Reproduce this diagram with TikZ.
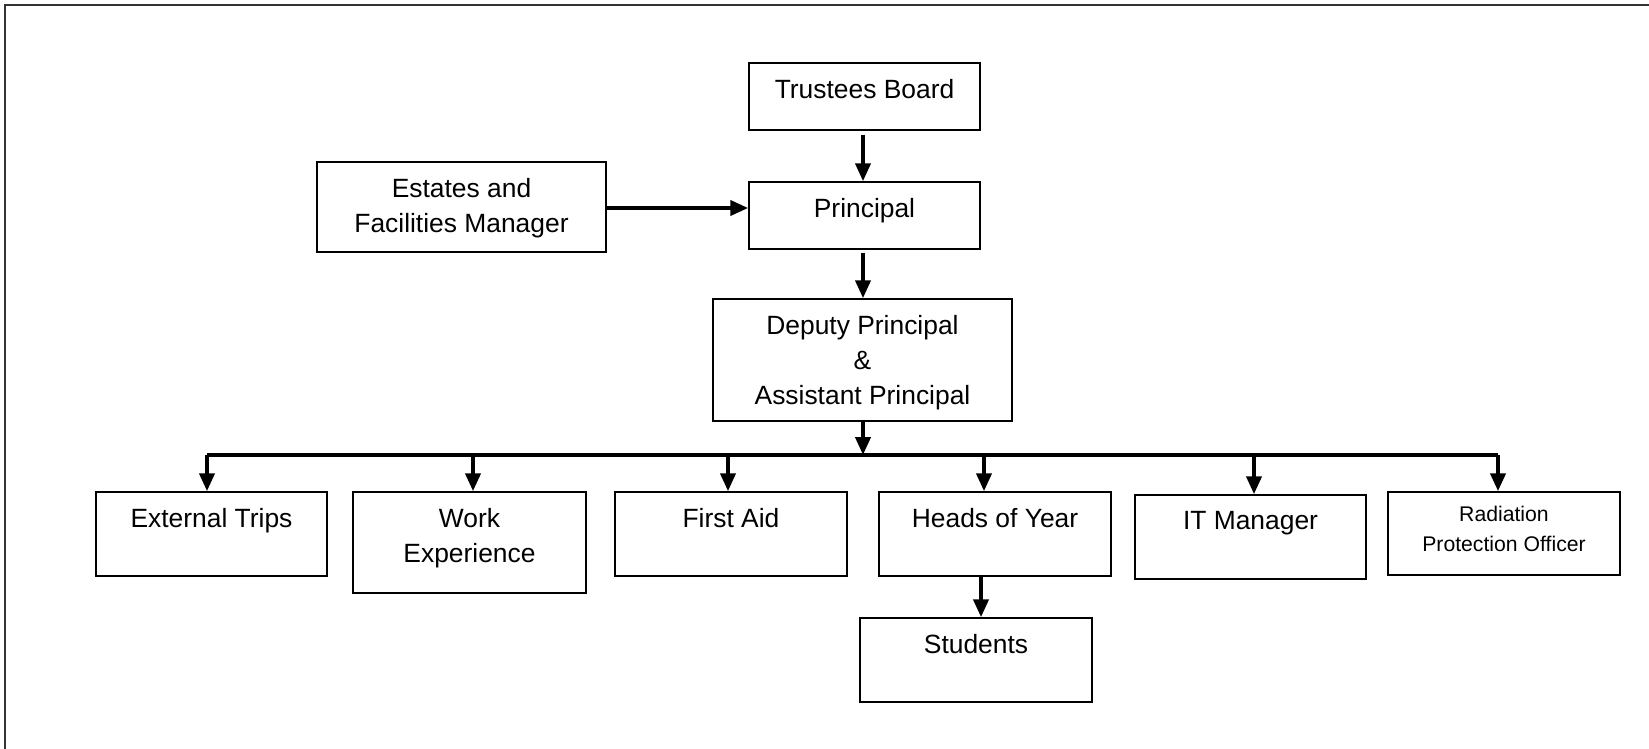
\documentclass[tikz,border=0pt]{standalone}
\usepackage{fontspec}
\setmainfont{Liberation Sans}
\usetikzlibrary{arrows.meta}
\begin{document}
\begin{tikzpicture}[x=0.5pt,y=-0.5pt,
  orgbox/.style={draw, line width=0.75pt, inner sep=0pt},
  lbl/.style={anchor=north, inner sep=0pt, align=center, font=\fontsize{13.2}{17.5}\selectfont, yshift=-8.25pt},
  smalllbl/.style={anchor=north, inner sep=0pt, align=center, font=\fontsize{10.6}{15}\selectfont, yshift=-7.2pt},
  arr/.style={line width=2pt, -{Triangle[length=9pt,width=7.5pt]}},
  bus/.style={line width=2pt},
  frame/.style={line width=1pt, draw=black!80}]
\useasboundingbox (0,0) rectangle (1649,749);
% frame (top and left edges only)
\coordinate (fTL) at (5,5);
\coordinate (fTR) at (1649,5);
\coordinate (fBL) at (5,749);
\draw[frame] (fBL) -- (fTL) -- (fTR);
% boxes
\node[orgbox, minimum width=115.5pt, minimum height=33.5pt] (tb) at (864.5,96.5) {};
\node[orgbox, minimum width=115.5pt, minimum height=33.5pt] (pr) at (864.5,215.5) {};
\node[orgbox, minimum width=144.5pt, minimum height=45pt] (es) at (461.5,207) {};
\node[orgbox, minimum width=149.5pt, minimum height=61pt] (dp) at (862.5,360) {};
\node[orgbox, minimum width=115.5pt, minimum height=42pt] (et) at (211.5,534) {};
\node[orgbox, minimum width=116.5pt, minimum height=50.5pt] (we) at (469.5,542.5) {};
\node[orgbox, minimum width=116pt, minimum height=42pt] (fa) at (731,534) {};
\node[orgbox, minimum width=116pt, minimum height=42pt] (hy) at (995,534) {};
\node[orgbox, minimum width=115.5pt, minimum height=42pt] (it) at (1250.5,537) {};
\node[orgbox, minimum width=116pt, minimum height=41.5pt] (ro) at (1504,533.5) {};
\node[orgbox, minimum width=116pt, minimum height=42pt] (st) at (976,660) {};
% labels
\node[lbl] (tbt) at (tb.north) {Trustees Board};
\node[lbl] (prt) at (pr.north) {Principal};
\node[lbl] (est) at (es.north) {Estates and\\Facilities Manager};
\node[lbl] (dpt) at (dp.north) {Deputy Principal\\\&\\Assistant Principal};
\node[lbl] (ett) at (et.north) {External Trips};
\node[lbl] (wet) at (we.north) {Work\\Experience};
\node[lbl] (fat) at (fa.north) {First Aid};
\node[lbl] (hyt) at (hy.north) {Heads of Year};
\node[lbl] (itt) at (it.north) {IT Manager};
\node[smalllbl] (rot) at (ro.north) {Radiation\\Protection Officer};
\node[lbl] (stt) at (st.north) {Students};
% connectors
\draw[arr, shorten <=2pt] (tb.south -| 863,0) -- (pr.north -| 863,0);
\draw[arr] (es.east |- 0,208) -- (pr.west |- 0,208);
\draw[arr, shorten <=1.5pt] (pr.south -| 863,0) -- (dp.north -| 863,0);
\coordinate (bL) at (207,455);
\coordinate (bR) at (1498,455);
\coordinate (bM) at (863,455);
\draw[bus] (bL) -- (bR);
\draw[arr] (dp.south -| bM) -- (bM);
\coordinate (b1) at (207,455);
\coordinate (b2) at (473,455);
\coordinate (b3) at (728,455);
\coordinate (b4) at (984,455);
\coordinate (b5) at (1254,455);
\coordinate (b6) at (1498,455);
\draw[arr] (b1) -- (b1 |- et.north);
\draw[arr] (b2) -- (b2 |- we.north);
\draw[arr] (b3) -- (b3 |- fa.north);
\draw[arr] (b4) -- (b4 |- hy.north);
\draw[arr] (b5) -- (b5 |- it.north);
\draw[arr] (b6) -- (b6 |- ro.north);
\coordinate (hyo) at (981,576);
\draw[arr] (hyo) -- (hyo |- st.north);
\end{tikzpicture}
\end{document}
